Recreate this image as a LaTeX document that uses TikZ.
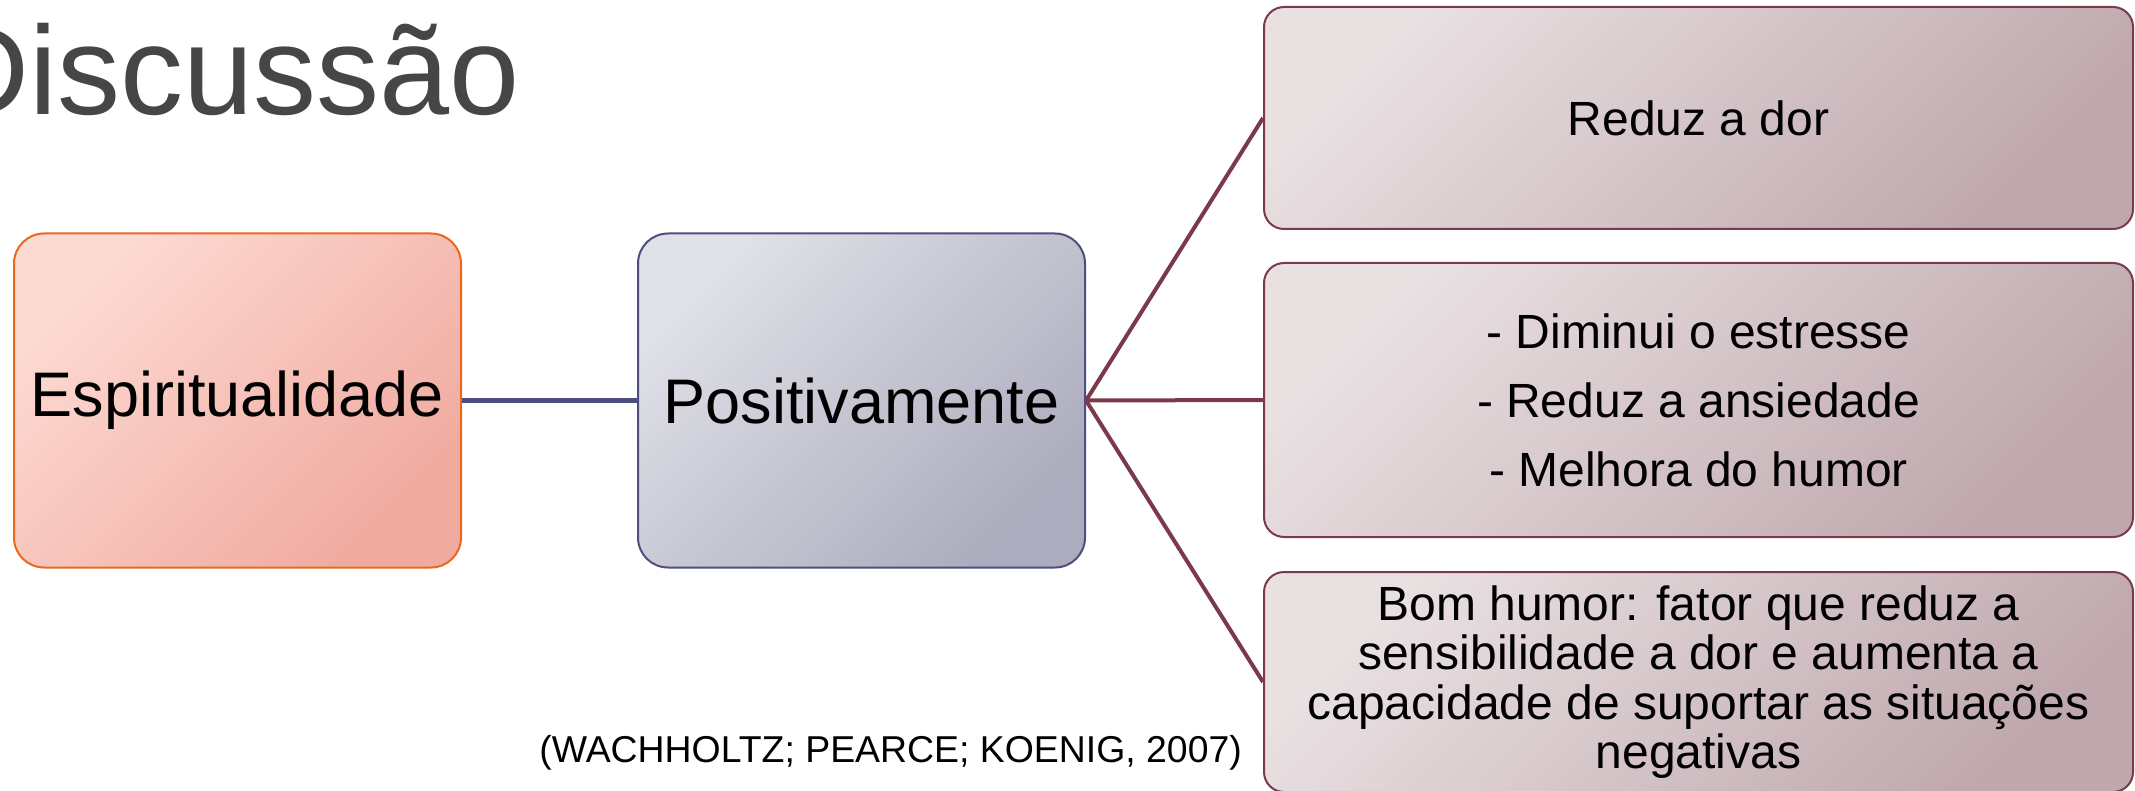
\documentclass[tikz,border=0pt]{standalone}
\usepackage{fontspec}
\setmainfont{Liberation Sans}
\definecolor{titlegray}{HTML}{464646}
\definecolor{esptop}{HTML}{FDDAD3}
\definecolor{espbot}{HTML}{F0AA9F}
\definecolor{espborder}{HTML}{E8691E}
\definecolor{postop}{HTML}{E0E0E7}
\definecolor{posbot}{HTML}{ACACBE}
\definecolor{posborder}{HTML}{4E4E80}
\definecolor{bluelinkc}{HTML}{4A4E80}
\definecolor{rtop}{HTML}{E9E0E2}
\definecolor{rbot}{HTML}{BFA8AD}
\definecolor{rborder}{HTML}{7A3A4A}
\definecolor{maroonc}{HTML}{7B3A4A}
\begin{document}
\begin{tikzpicture}[x=0.5pt,y=-0.5pt,
  espbox/.style={draw=espborder, line width=1pt, rounded corners=15pt,
    top color=esptop, bottom color=espbot, shading angle=45,
    minimum width=223.5pt, minimum height=167pt, inner sep=0pt,
    font=\fontsize{31.5}{36}\selectfont},
  posbox/.style={draw=posborder, line width=1pt, rounded corners=15pt,
    top color=postop, bottom color=posbot, shading angle=45,
    minimum width=223.5pt, minimum height=167pt, inner sep=0pt,
    font=\fontsize{31.5}{36}\selectfont},
  rbox/.style={draw=rborder, line width=1pt, rounded corners=10pt,
    top color=rtop, bottom color=rbot, shading angle=45,
    minimum width=434.5pt, inner sep=0pt, align=center},
  bluelink/.style={draw=bluelinkc, line width=2.5pt},
  maroonlink/.style={draw=maroonc, line width=2pt},
  titletext/.style={text=titlegray, inner sep=0pt, font=\fontsize{63}{76}\selectfont},
  citetext/.style={text=black, inner sep=0pt, font=\fontsize{18.7}{22}\selectfont}
]
\useasboundingbox (0,0) rectangle (2135,791);
\fill[white] (0,0) rectangle (2135,791);

\node[titletext, anchor=base east] (title) at (520,115) {Discussão};

\node[espbox] (esp) at (237.5,400.5) {Espiritualidade};
\node[posbox] (pos) at (861.5,400.5) {Positivamente};

\node[rbox, minimum height=111pt, font=\fontsize{24}{28}\selectfont] (b1) at (1698.5,118) {Reduz a dor};
\node[rbox, minimum height=137pt, font=\fontsize{24}{34.5}\selectfont] (b2) at (1698.5,400)
  {- Diminui o estresse\\- Reduz a ansiedade\\- Melhora do humor};
\node[rbox, minimum height=110pt, font=\fontsize{24}{24.8}\selectfont] (b3) at (1698.5,682)
  {Bom humor: fator que reduz a\\sensibilidade a dor e aumenta a\\capacidade de suportar as situações\\negativas};

\draw[bluelink] (esp.east) -- (pos.west);
\draw[maroonlink] (pos.east) -- (b1.west);
\draw[maroonlink] (pos.east) -- (b2.west);
\draw[maroonlink] (pos.east) -- (b3.west);

\node[citetext, anchor=base west] (cite) at (539,762) {(WACHHOLTZ; PEARCE; KOENIG, 2007)};
\end{tikzpicture}
\end{document}
